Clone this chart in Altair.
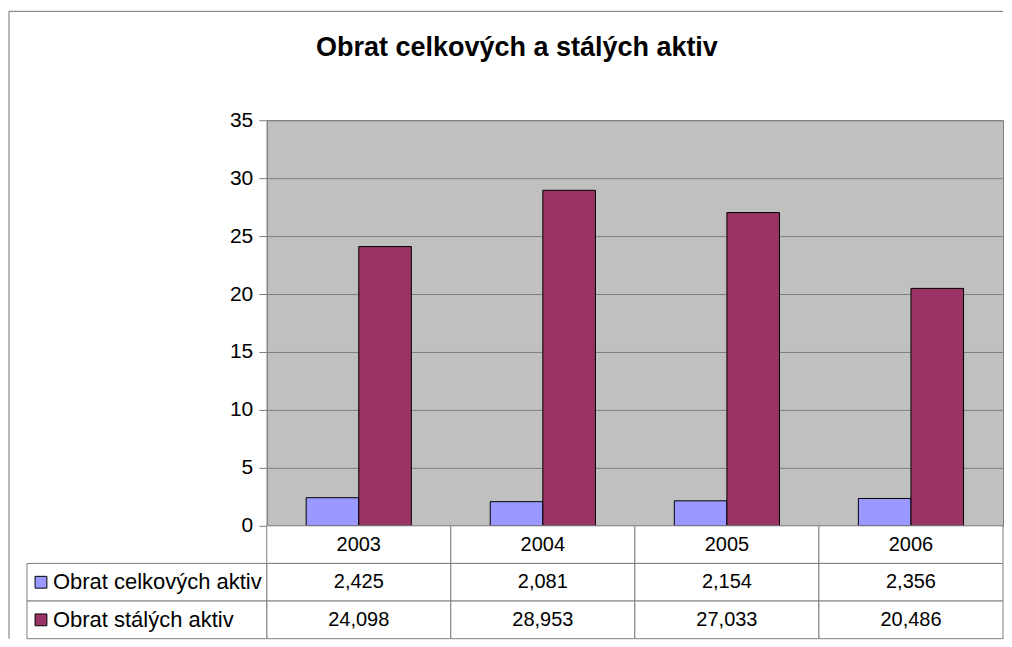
import altair as alt
import pandas as pd

# ---- data ----
years = ["2003", "2004", "2005", "2006"]
series_names = ["Obrat celkových aktiv", "Obrat stálých aktiv"]
obrat_celkovych = [2.425, 2.081, 2.154, 2.356]
obrat_stalych = [24.098, 28.953, 27.033, 20.486]
colors = ["#9999FF", "#993366"]
y_ticks = [0, 5, 10, 15, 20, 25, 30, 35]
title_text = "Obrat celkových a stálých aktiv"

FONT = "Liberation Sans"
W = 737
H = 406
TABLE_H = 113

bars_df = pd.DataFrame({
    "year": years * 2,
    "series": [series_names[0]] * 4 + [series_names[1]] * 4,
    "value": obrat_celkovych + obrat_stalych,
})


def fmt(v):
    return f"{v:.3f}".replace(".", ",")


rows = ["header"] + series_names
table_records = []
for yr in years:
    table_records.append({"row": "header", "year": yr, "text": yr})
for s, vals in zip(series_names, [obrat_celkovych, obrat_stalych]):
    for yr, v in zip(years, vals):
        table_records.append({"row": s, "year": yr, "text": fmt(v)})
table_df = pd.DataFrame(table_records)
labels_df = pd.DataFrame({"row": series_names, "series": series_names})
one = pd.DataFrame({"k": [0]})

x_scale = alt.Scale(domain=years, paddingInner=0, paddingOuter=0)
color_scale = alt.Scale(domain=series_names, range=colors)

bars = alt.Chart(bars_df).mark_bar(stroke="black", strokeWidth=1).encode(
    x=alt.X("year:N", scale=x_scale,
            axis=alt.Axis(title=None, labels=False, ticks=False, domain=True,
                          domainColor="#808080", grid=False)),
    xOffset=alt.XOffset("series:N",
                        scale=alt.Scale(domain=series_names, paddingInner=0, paddingOuter=0.75)),
    y=alt.Y("value:Q", scale=alt.Scale(domain=[0, 35], nice=False),
            axis=alt.Axis(values=y_ticks, title=None, labelFontSize=21, labelColor="black",
                          tickColor="#808080", tickSize=8, domainColor="#808080",
                          gridColor="#808080", labelPadding=6)),
    color=alt.Color("series:N", scale=color_scale, legend=None),
)

top = bars.properties(
    width=W, height=H,
    title=alt.TitleParams(text=title_text, fontSize=27, fontWeight="bold", color="black",
                          anchor="middle", dx=-118, offset=47),
    view=alt.ViewBackground(fill="#C0C0C0", stroke="#808080"),
)

table_y = alt.Y("row:N", scale=alt.Scale(domain=rows, paddingInner=0, paddingOuter=0), axis=None)
table_x = alt.X("year:N", scale=x_scale, axis=None)

# outer chart frame (top and left edges; the rest lies outside the picture)
frame_top = alt.Chart(one).mark_rule(color="#707070", strokeWidth=1).encode(
    x=alt.value(-258), x2=alt.value(W), y=alt.value(-515))
frame_left = alt.Chart(one).mark_rule(color="#707070", strokeWidth=1).encode(
    x=alt.value(-258), y=alt.value(-515), y2=alt.value(TABLE_H))

cells = alt.Chart(table_df).mark_rect(fill="white", stroke="#808080", strokeWidth=1).encode(
    x=table_x, y=table_y)
texts = alt.Chart(table_df).mark_text(fontSize=20, font=FONT, color="black").encode(
    x=table_x, y=table_y, text="text:N")
label_cells = alt.Chart(labels_df).mark_rect(fill="white", stroke="#808080", strokeWidth=1).encode(
    x=alt.value(-240), x2=alt.value(0), y=table_y)
swatches = alt.Chart(labels_df).mark_square(size=140, stroke="black", strokeWidth=1, opacity=1).encode(
    x=alt.value(-226), y=table_y, color=alt.Color("series:N", scale=color_scale, legend=None))
label_text = alt.Chart(labels_df).mark_text(align="left", fontSize=22, font=FONT, color="black").encode(
    x=alt.value(-214), y=table_y, text="row:N")

table = alt.layer(frame_top, frame_left, cells, label_cells, texts, swatches, label_text).properties(
    width=W, height=TABLE_H,
    view=alt.ViewBackground(stroke="transparent"),
)

chart = alt.vconcat(top, table, spacing=0, bounds="flush").properties(
    padding={"left": 0, "top": 2, "right": 0, "bottom": 0},
    background="white",
).configure_axis(labelFont=FONT).configure_title(font=FONT)

chart.save("out.html", embed_options={"renderer": "svg", "actions": False})
